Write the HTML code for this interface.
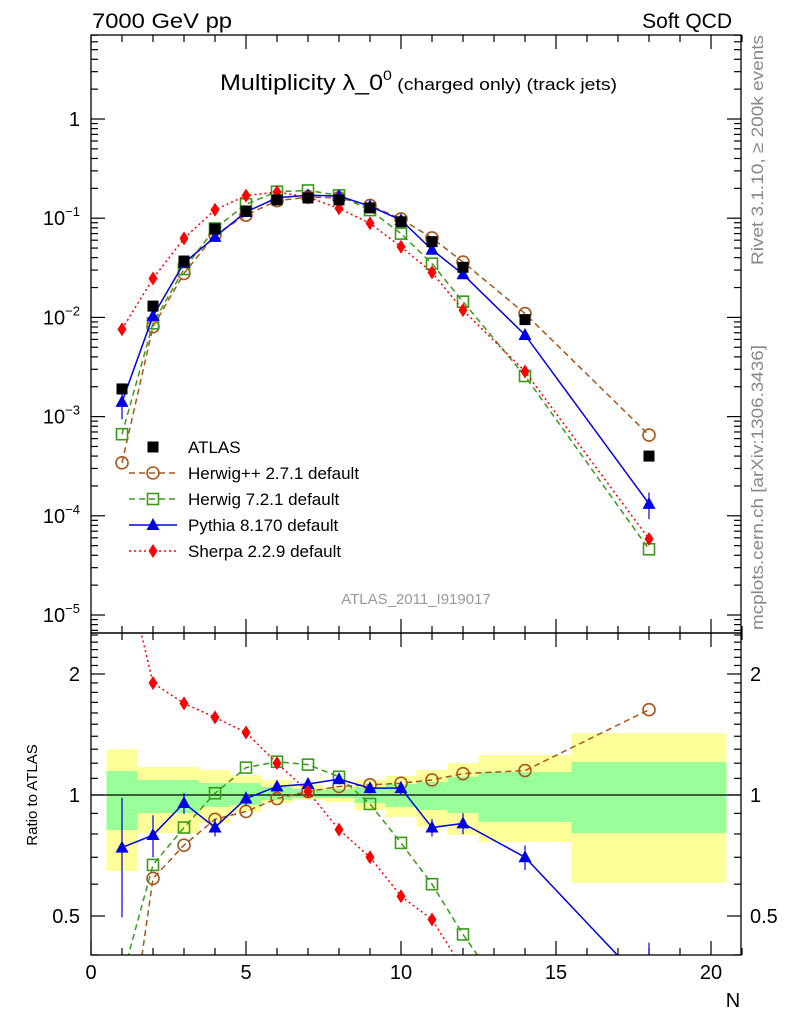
<!DOCTYPE html>
<html><head><meta charset="utf-8"><style>
html,body{margin:0;padding:0;background:#fff;width:786px;height:1024px;overflow:hidden;}
svg{display:block;font-family:"Liberation Sans",sans-serif;overflow:hidden;}
</style></head><body>
<svg id="c" width="786" height="1024" xmlns="http://www.w3.org/2000/svg">
<defs>
<clipPath id="cm"><rect x="91" y="35" width="650" height="598"/></clipPath>
<clipPath id="cr"><rect x="91" y="633" width="650" height="322"/></clipPath>
</defs>
<g id="bands" clip-path="url(#cr)"></g>
<g id="ticks"></g>
<line x1="91" y1="795" x2="741" y2="795" stroke="#000" stroke-width="1.3"/>
<g id="mainS" clip-path="url(#cm)"></g>
<g id="ratS" clip-path="url(#cr)"></g>
<rect x="91" y="35" width="650" height="598" fill="none" stroke="#000" stroke-width="1.3"/>
<rect x="91" y="633" width="650" height="322" fill="none" stroke="#000" stroke-width="1.3"/>
<text x="92" y="28" font-size="21" textLength="140" lengthAdjust="spacingAndGlyphs">7000 GeV pp</text>
<text x="732" y="28" font-size="21" text-anchor="end">Soft QCD</text>
<text x="220" y="90" font-size="22" textLength="397" lengthAdjust="spacingAndGlyphs">Multiplicity λ_0<tspan font-size="14" dy="-10">0</tspan><tspan font-size="17" dy="10"> (charged only) (track jets)</tspan></text>
<text transform="translate(763,265) rotate(-90)" font-size="17" fill="#888" textLength="230" lengthAdjust="spacingAndGlyphs">Rivet 3.1.10, ≥ 200k events</text>
<text transform="translate(763,630) rotate(-90)" font-size="17" fill="#888" textLength="285" lengthAdjust="spacingAndGlyphs">mcplots.cern.ch [arXiv:1306.3436]</text>
<text x="416" y="604" font-size="15" fill="#999" text-anchor="middle">ATLAS_2011_I919017</text>
<text transform="translate(37,795) rotate(-90)" font-size="15" text-anchor="middle">Ratio to ATLAS</text>
<text x="733" y="1007" font-size="20" text-anchor="middle">N</text>
<g id="legend"></g>
</svg>
<script>
const NS="http://www.w3.org/2000/svg";
const xs=[1,2,3,4,5,6,7,8,9,10,11,12,14,18];
const binLo=[0.5,1.5,2.5,3.5,4.5,5.5,6.5,7.5,8.5,9.5,10.5,11.5,12.5,15.5];
const binHi=[1.5,2.5,3.5,4.5,5.5,6.5,7.5,8.5,9.5,10.5,11.5,12.5,15.5,20.5];
const atlas=[0.0019,0.013,0.037,0.078,0.118,0.153,0.16,0.153,0.127,0.092,0.058,0.032,0.0095,0.0004];
const bandTotHi=[1.30,1.174,1.174,1.154,1.12,1.09,1.059,1.047,1.09,1.115,1.154,1.2,1.258,1.426];
const bandTotLo=[0.647,0.804,0.804,0.852,0.907,0.955,0.972,0.96,0.918,0.882,0.833,0.795,0.764,0.604];
const bandStatHi=[1.147,1.09,1.09,1.071,1.071,1.047,1.035,1.035,1.047,1.065,1.077,1.11,1.14,1.208];
const bandStatLo=[0.818,0.902,0.902,0.934,0.944,0.972,0.983,0.983,0.955,0.934,0.918,0.902,0.857,0.804];
const rHerwigPP=[0.18,0.62,0.75,0.87,0.91,0.98,1.02,1.05,1.06,1.07,1.09,1.13,1.15,1.63];
const rHerwig7=[0.35,0.67,0.83,1.01,1.17,1.21,1.19,1.11,0.95,0.76,0.60,0.45,0.27,0.115];
const rPythia=[0.74,0.795,0.955,0.83,0.98,1.05,1.065,1.095,1.04,1.04,0.83,0.85,0.70,0.33];
const ePythia=[0.33,0.12,0.06,0.05,0.04,0.03,0.03,0.03,0.03,0.04,0.05,0.06,0.07,0.3];
const rSherpa=[4.0,1.90,1.69,1.56,1.43,1.20,1.02,0.82,0.70,0.56,0.49,0.37,0.30,0.146];
const X=v=>91+31*v;
const Ym=v=>119-99.2*Math.log10(v);
const Yr=v=>795-402*Math.log10(v);
function el(tag,attrs,parent){const e=document.createElementNS(NS,tag);for(const k in attrs)e.setAttribute(k,attrs[k]);parent.appendChild(e);return e;}
const B=document.getElementById('bands');
for(let i=0;i<xs.length;i++){
 let r=el('rect',{x:X(binLo[i]),width:X(binHi[i])-X(binLo[i]),y:Yr(bandTotHi[i]),height:Yr(bandTotLo[i])-Yr(bandTotHi[i]),fill:'#ffff99'},B);
 
 
 let g=el('rect',{x:X(binLo[i]),width:X(binHi[i])-X(binLo[i]),y:Yr(bandStatHi[i]),height:Yr(bandStatLo[i])-Yr(bandStatHi[i]),fill:'#99ff99'},B);
 
 
}
const T=document.getElementById('ticks');
function ln(x1,y1,x2,y2,p){el('line',{x1,y1,x2,y2,stroke:'#000','stroke-width':1.2},p);}
for(let v=0;v<=21;v++){
 const L=v%5==0?14:7;const x=X(v);
 ln(x,35,x,35+L,T);ln(x,633,x,633-L,T);ln(x,633,x,633+L,T);ln(x,955,x,955-L,T);
 if(v%5==0){let t=el('text',{x:x,y:979,'font-size':20,'text-anchor':'middle'},T);t.textContent=v;}
}
for(let d=-6;d<=0;d++){
 for(let m=1;m<10;m++){
  const v=m*Math.pow(10,d);const y=Ym(v);if(y<35||y>633)continue;
  const L=m==1?14:7;ln(91,y,91+L,y,T);ln(741,y,741-L,y,T);
  if(m==1){let t=el('text',{x:80,y:y+7,'font-size':20,'text-anchor':'end'},T);
   if(d==0)t.textContent='1';else{t.textContent='10';const s=el('tspan',{dy:-9,'font-size':13},t);s.textContent=String(d).replace('-','−');}
   }
 }
}
for(let v=0.4;v<=2.51;v+=0.1){
 const y=Yr(v);const maj=Math.abs(v-1)<1e-6||Math.abs(v-2)<1e-6||Math.abs(v-0.5)<1e-6;
 const L=maj?14:7;ln(91,y,91+L,y,T);ln(741,y,741-L,y,T);
}
[[2,'2'],[1,'1'],[0.5,'0.5']].forEach(([v,s])=>{
 let t=el('text',{x:80,y:Yr(v)+7,'font-size':20,'text-anchor':'end'},T);t.textContent=s;
 let t2=el('text',{x:750,y:Yr(v)+7,'font-size':20},T);t2.textContent=s;
});
function marker(type,x,y,col,p){
 if(type=='sq')return el('rect',{x:x-5.5,y:y-5.5,width:11,height:11,fill:'#000'},p);
 if(type=='osq')return el('rect',{x:x-5.5,y:y-5.5,width:11,height:11,fill:'none',stroke:col,'stroke-width':1.6},p);
 if(type=='oc')return el('circle',{cx:x,cy:y,r:6,fill:'none',stroke:col,'stroke-width':1.6},p);
 if(type=='tri')return el('polygon',{points:`${x},${y-7} ${x-6.5},${y+5} ${x+6.5},${y+5}`,fill:col},p);
 if(type=='dia')return el('polygon',{points:`${x},${y-7} ${x-4.5},${y} ${x},${y+7} ${x+4.5},${y}`,fill:col},p);
}
const series=[
 {name:'herwigpp',r:rHerwigPP,col:'#a8561c',dash:'6,4',m:'oc',label:'Herwig++ 2.7.1 default'},
 {name:'herwig7',r:rHerwig7,col:'#3a9a1a',dash:'6,4',m:'osq',label:'Herwig 7.2.1 default'},
 {name:'pythia',r:rPythia,col:'#0000e6',dash:'',m:'tri',label:'Pythia 8.170 default',e:ePythia},
 {name:'sherpa',r:rSherpa,col:'#ff0000',dash:'2,3',m:'dia',label:'Sherpa 2.2.9 default'}];
const M=document.getElementById('mainS'),R=document.getElementById('ratS');
series.forEach(s=>{
 const pm=xs.map((x,i)=>X(x)+','+Ym(atlas[i]*s.r[i])).join(' ');
 const pr=xs.map((x,i)=>X(x)+','+Yr(s.r[i])).join(' ');
 let a=el('polyline',{points:pm,fill:'none',stroke:s.col,'stroke-width':1.5,'stroke-dasharray':s.dash},M);
 
 let b=el('polyline',{points:pr,fill:'none',stroke:s.col,'stroke-width':1.5,'stroke-dasharray':s.dash},R);
 
 xs.forEach((x,i)=>{
  if(s.e){const v=atlas[i]*s.r[i];
   ln(X(x),Ym(v*(1+s.e[i])),X(x),Ym(Math.max(v*(1-s.e[i]),1e-9)),M);
   M.lastChild.setAttribute('stroke',s.col);
   ln(X(x),Yr(s.r[i]*(1+s.e[i])),X(x),Yr(s.r[i]*(1-s.e[i])),R);
   R.lastChild.setAttribute('stroke',s.col);}
  let p=marker(s.m,X(x),Ym(atlas[i]*s.r[i]),s.col,M);
  
  let q=marker(s.m,X(x),Yr(s.r[i]),s.col,R);
  
 });
});
xs.forEach((x,i)=>{let p=marker('sq',X(x),Ym(atlas[i]),'#000',M);
 });
const G=document.getElementById('legend');
const ents=[{m:'sq',col:'#000',label:'ATLAS',dash:null}].concat(series);
ents.forEach((s,i)=>{
 const y=447+26*i;
 const g=el('g',{},G);
 
 
 if(s.dash!==null){el('line',{x1:129,y1:y,x2:177,y2:y,stroke:s.col,'stroke-width':1.5,'stroke-dasharray':s.dash},g);}
 marker(s.m,153,y,s.col,g);
 const t=el('text',{x:188,y:y+6,'font-size':17},g);t.textContent=s.label;
});
</script>
</body></html>
